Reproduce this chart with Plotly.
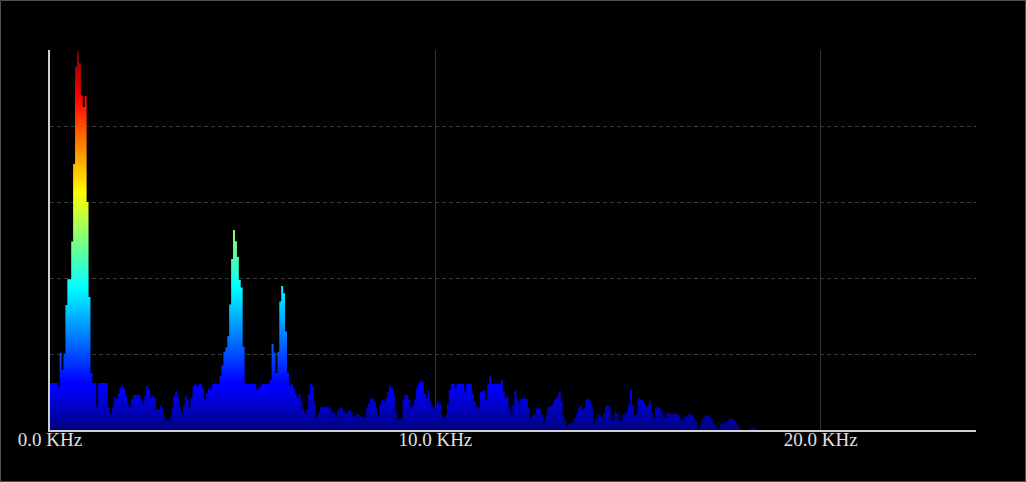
import plotly.graph_objects as go

# ---- data -------------------------------------------------------------
BIN_KHZ = 0.05  # width of one spectrum bin, kHz
# amplitude per bin (percent of full scale), starting at 0 kHz
AMPLITUDE = [
    12.4, 12.4, 12.4, 12.4, 11.4, 20.3, 15.8, 20.0, 32.9, 39.7,
    39.7, 49.6, 70.0, 95.6, 99.7, 96.6, 88.0, 85.0, 87.9, 60.0,
    35.0, 15.0, 12.4, 12.4, 6.0, 12.4, 12.4, 12.4, 12.4, 12.4,
    6.0, 4.2, 6.0, 8.7, 8.2, 9.5, 11.0, 11.8, 11.0, 9.0,
    7.0, 5.8, 8.0, 9.2, 9.2, 9.2, 9.2, 8.0, 7.0, 9.0,
    11.8, 10.5, 8.5, 9.0, 8.5, 5.5, 5.5, 6.6, 5.8, 4.0,
    2.6, 2.4, 3.5, 6.0, 9.0, 10.3, 8.5, 6.0, 4.5, 6.5,
    9.0, 8.0, 5.8, 8.5, 11.5, 12.1, 11.5, 12.0, 12.1, 11.0,
    8.0, 9.6, 11.0, 10.5, 12.1, 12.1, 12.1, 12.1, 14.2, 17.0,
    20.6, 21.7, 24.7, 33.0, 45.0, 52.6, 49.7, 45.6, 39.5, 37.5,
    21.9, 12.1, 12.1, 12.1, 12.1, 12.1, 12.1, 10.5, 11.0, 11.5,
    12.1, 12.1, 12.1, 12.1, 13.2, 22.6, 20.3, 15.0, 20.6, 33.8,
    37.9, 36.0, 25.9, 15.0, 11.5, 12.1, 11.0, 9.5, 8.5, 9.5,
    7.5, 5.5, 4.2, 5.5, 9.5, 12.1, 11.5, 7.0, 3.2, 4.5,
    6.0, 6.1, 6.1, 6.1, 6.1, 5.7, 4.8, 4.4, 3.5, 5.3,
    5.7, 5.7, 5.0, 4.2, 4.8, 5.3, 4.8, 3.5, 3.7, 4.2,
    4.0, 3.5, 3.5, 3.1, 5.8, 7.0, 8.3, 8.2, 7.4, 5.8,
    3.9, 6.7, 7.9, 7.5, 8.3, 10.1, 11.8, 11.0, 9.0, 5.0,
    2.6, 2.6, 3.1, 7.9, 9.2, 9.2, 7.9, 5.7, 6.3, 8.0,
    11.0, 12.3, 12.9, 12.7, 9.5, 8.3, 10.3, 7.5, 6.1, 5.7,
    6.8, 7.7, 7.0, 3.8, 3.1, 4.0, 7.0, 10.5, 12.1, 12.1,
    11.0, 12.1, 12.1, 12.1, 12.1, 10.0, 12.1, 12.1, 12.1, 9.6,
    7.5, 6.1, 5.7, 10.0, 10.3, 10.3, 8.0, 12.1, 14.0, 12.1,
    12.1, 12.1, 12.1, 12.1, 13.2, 10.0, 8.3, 8.8, 6.1, 4.0,
    6.5, 10.3, 8.2, 7.0, 8.0, 8.3, 8.3, 8.2, 6.0, 3.1,
    3.9, 4.3, 5.7, 6.1, 5.5, 4.0, 2.2, 4.0, 6.1, 6.1,
    6.6, 7.5, 8.3, 8.8, 10.1, 7.5, 4.0, 2.2, 0.9, 1.5,
    1.8, 2.0, 3.1, 4.3, 5.7, 6.3, 5.3, 5.7, 7.9, 8.3,
    7.5, 6.1, 1.8, 3.1, 4.3, 3.9, 3.1, 4.3, 6.1, 6.6,
    6.1, 3.1, 2.5, 4.8, 4.3, 2.8, 2.2, 4.1, 4.5, 4.8,
    6.6, 10.5, 6.6, 3.9, 4.2, 8.3, 8.1, 7.9, 7.0, 6.0,
    6.6, 7.6, 4.4, 3.1, 5.9, 6.1, 5.7, 4.8, 3.5, 3.1,
    4.8, 4.4, 4.0, 4.2, 4.4, 4.3, 3.9, 2.6, 2.6, 3.5,
    3.8, 4.1, 4.2, 3.9, 3.1, 2.2, 0.4, 1.2, 2.6, 3.5,
    3.9, 3.9, 3.5, 2.6, 1.8, 0.9, 0.5, 0.6, 1.6, 2.2,
    2.0, 2.5, 2.8, 3.0, 2.9, 2.5, 1.8, 0.9, 0.3, 0.0,
    0.0, 0.0, 0.2, 0.4, 0.4, 0.4, 0.3, 0.0,
]
X_TICKS = [0, 10, 20]
X_TICK_LABELS = ["0.0 KHz", "10.0 KHz", "20.0 KHz"]
Y_GRID = [20, 40, 60, 80]
X_MAX_KHZ = 24.03
Y_MAX = 100

# ---- styling ----------------------------------------------------------
W, H = 1026, 482
ML, MR, MT, MB = 50, 50, 50, 52
JET = [
    [0.0, "#00007f"], [0.11, "#0000ff"], [0.125, "#0000ff"],
    [0.375, "#00ffff"], [0.625, "#ffff00"], [0.875, "#ff0000"],
    [1.0, "#7f0000"],
]

fig = go.Figure()
fig.add_trace(go.Scatter(
    x0=0, dx=BIN_KHZ, y=AMPLITUDE,
    mode="none", fill="tozeroy", line=dict(shape="hv"),
    fillgradient=dict(type="vertical", colorscale=JET, start=0, stop=Y_MAX),
    hoverinfo="skip", showlegend=False,
))

fig.update_layout(
    width=W, height=H,
    margin=dict(l=ML, r=MR, t=MT, b=MB),
    paper_bgcolor="#000000", plot_bgcolor="#000000",
    font=dict(family="Liberation Serif", size=19, color="#e0e0e0"),
)
fig.update_xaxes(
    range=[0, X_MAX_KHZ], tickvals=X_TICKS, ticktext=X_TICK_LABELS,
    showgrid=True, gridcolor="#333333", gridwidth=1,
    showline=True, linecolor="#cfcfcf", linewidth=2,
    zeroline=False, ticks="", ticklabelstandoff=-9,
)
fig.update_yaxes(
    range=[0, Y_MAX], tickvals=Y_GRID, showticklabels=False,
    showgrid=True, gridcolor="#3a3a3a", gridwidth=1, griddash="4px,3px",
    showline=True, linecolor="#cfcfcf", linewidth=2,
    zeroline=False, ticks="",
)
pw, ph = W - ML - MR, H - MT - MB
fig.add_shape(
    type="rect", xref="paper", yref="paper",
    x0=-(ML - 0.5) / pw, x1=(W - ML - 0.5) / pw,
    y0=-(MB - 0.5) / ph, y1=(H - MB - 0.5) / ph,
    line=dict(color="#505050", width=1), fillcolor="rgba(0,0,0,0)",
    layer="above",
)
fig.write_html(
    "out.html",
    config={"displayModeBar": False, "staticPlot": True},
    post_script="document.body.style.margin='0';document.body.style.background='#000';",
)
